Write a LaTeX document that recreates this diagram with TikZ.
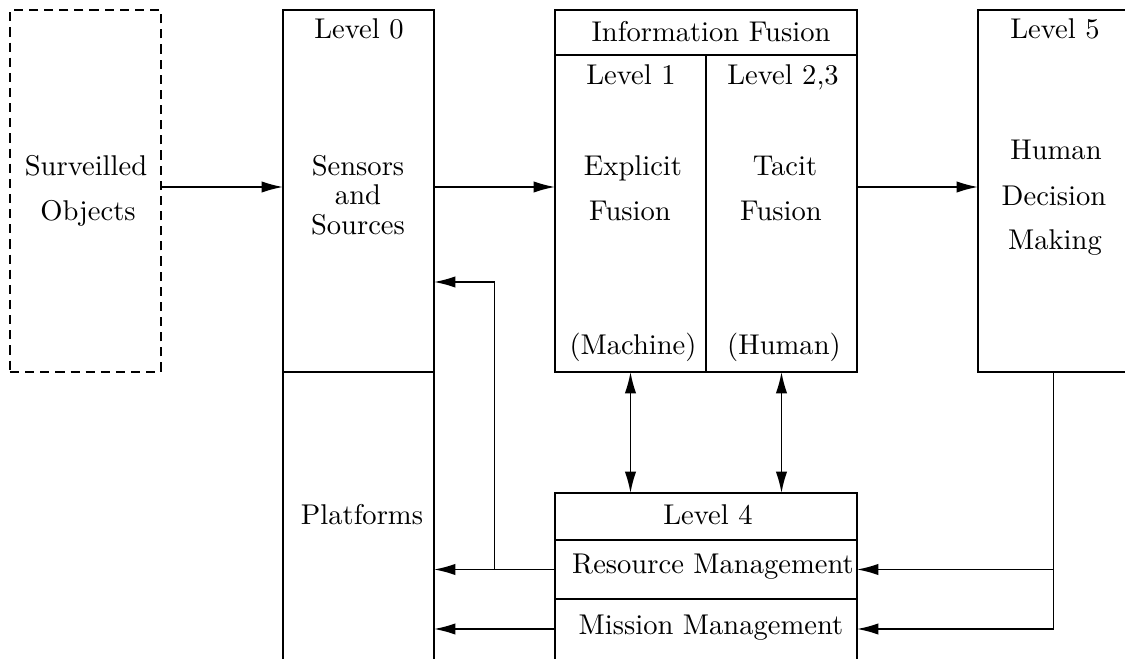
\documentclass[tikz,border=0pt]{standalone}
\usetikzlibrary{arrows.meta,calc}
\begin{document}
\begin{tikzpicture}[x=0.35pt,y=-0.35pt,line width=0.55pt,
  box/.style={draw,rectangle,inner sep=0pt,outer sep=0pt,anchor=north west},
  dbox/.style={box,dash pattern=on 3.2pt off 2.1pt},
  lbl/.style={anchor=base,inner sep=0pt,outer sep=0pt,font=\fontsize{10}{12}\selectfont},
  arr/.style={-{Latex[length=7.5pt,width=4pt]}},
  darr/.style={{Latex[length=7.5pt,width=4pt]}-{Latex[length=7.5pt,width=4pt]}}]
\useasboundingbox (0,0) rectangle (1125,659);

% boxes
\node[dbox,minimum width=52.85pt,minimum height=126.7pt] (surv) at (10,10) {};
\node[box,minimum width=52.85pt,minimum height=126.7pt] (lvl0) at (283,10) {};
\node[box,minimum width=52.85pt,minimum height=107.8pt] (plat) at (283,372) {};
\node[box,minimum width=105.7pt,minimum height=15.75pt] (fus) at (555,10) {};
\node[box,minimum width=52.85pt,minimum height=110.95pt] (lone) at (555,55) {};
\node[box,minimum width=52.85pt,minimum height=110.95pt] (ltwo) at (706,55) {};
\node[box,minimum width=52.85pt,minimum height=126.7pt] (lfive) at (978,10) {};
\node[box,minimum width=105.7pt,minimum height=16.45pt] (lfour) at (555,493) {};
\node[box,minimum width=105.7pt,minimum height=20.65pt] (rm) at (555,540) {};
\node[box,minimum width=105.7pt,minimum height=28.35pt] (mm) at (555,599) {};

% texts
\node[lbl] (surva) at (86,176) {Surveilled};
\node[lbl] (survb) at (88,221) {Objects};
\node[lbl] (lvlzt) at (359,39) {Level 0};
\node[lbl] (sena) at (358,176) {Sensors};
\node[lbl] (senb) at (358,205) {and};
\node[lbl] (senc) at (358,235) {Sources};
\node[lbl] (fust) at (711,42) {Information Fusion};
\node[lbl] (lonet) at (631,85) {Level 1};
\node[lbl] (ltwot) at (783,85) {Level 2,3};
\node[lbl] (expa) at (633,176) {Explicit};
\node[lbl] (expb) at (630,221) {Fusion};
\node[lbl] (taca) at (785,176) {Tacit};
\node[lbl] (tacb) at (781,221) {Fusion};
\node[lbl] (macht) at (633,355) {(Machine)};
\node[lbl] (humt) at (784,355) {(Human)};
\node[lbl] (lfivet) at (1055,39) {Level 5};
\node[lbl] (hda) at (1056,160) {Human};
\node[lbl] (hdb) at (1054,206) {Decision};
\node[lbl] (hdc) at (1055,250) {Making};
\node[lbl] (platt) at (362,525) {Platforms};
\node[lbl] (lfourt) at (708,525) {Level 4};
\node[lbl] (rmt) at (713,574) {Resource Management};
\node[lbl] (mmt) at (711,635) {Mission Management};

% connectors
\coordinate (ymain) at (0,187);
\coordinate (yfb) at (0,282);
\coordinate (ymm) at (0,629);
\draw[arr] (surv.east |- ymain) -- (lvl0.west |- ymain);
\draw[arr] (lvl0.east |- ymain) -- (lone.west |- ymain);
\draw[arr] (ltwo.east |- ymain) -- (lfive.west |- ymain);
\draw[darr] (lone.south) -- (lone.south |- lfour.north);
\draw[darr] (ltwo.south) -- (ltwo.south |- lfour.north);
\draw[arr] (lfive.south) |- (mm.east |- ymm);
\draw[arr] (lfive.south |- rm.east) -- (rm.east);
\draw[arr] (rm.west) -- (plat.east |- rm.west);
\coordinate (jn) at ($(plat.east |- rm.west)!0.5!(rm.west)$);
\draw[arr] (jn) |- (lvl0.east |- yfb);
\draw[arr] (mm.west |- ymm) -- (plat.east |- ymm);
\end{tikzpicture}
\end{document}
